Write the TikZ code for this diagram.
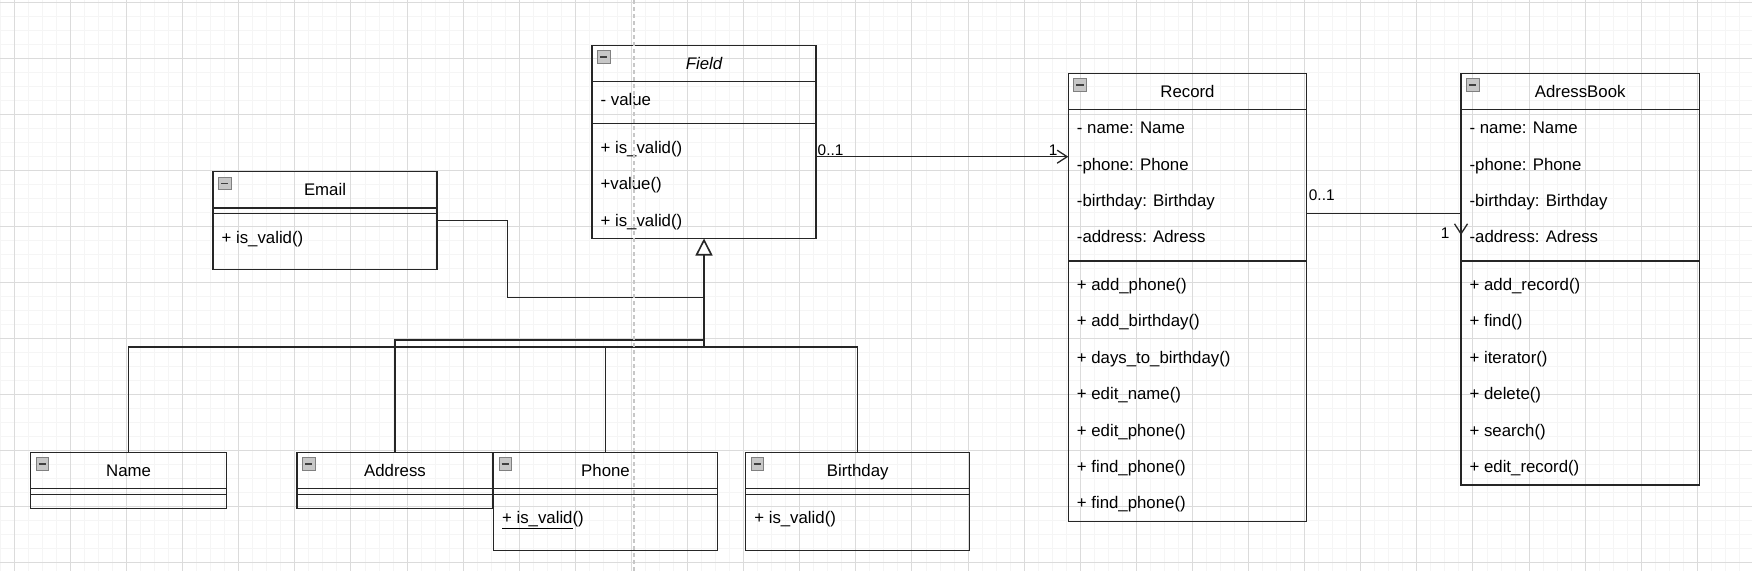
\documentclass[tikz,border=0pt]{standalone}
\usepackage{fontspec}
\setmainfont{Liberation Sans}
\usetikzlibrary{positioning,arrows.meta,math}

\newcommand\umlfont{\fontsize{16.8}{20}\selectfont}
\newcommand\multfont{\fontsize{15.4}{18}\selectfont}

\tikzset{
  head/.style={draw=black!85, line width=1.3pt, anchor=north west, inner sep=0pt, outer sep=0pt,
    minimum height=36.4pt, font=\umlfont, text height=15.2pt, text depth=3.6pt},
  comp/.style={draw=black!85, line width=1.3pt, inner sep=0pt, outer sep=0pt},
  row/.style={anchor=west, inner sep=0pt, xshift=8.4pt, font=\umlfont, text height=15.2pt, text depth=3.6pt},
  icon/.style={draw=black!50, fill=black!22, line width=0.8pt, anchor=north west, minimum size=12.6pt,
    inner sep=0pt, outer sep=0pt, xshift=5.4pt, yshift=-5.4pt,
    path picture={\draw[black!75, line width=1.8pt] ([xshift=2.6pt]path picture bounding box.west)
      -- ([xshift=-2.6pt]path picture bounding box.east);}},
  mult/.style={inner sep=0pt, font=\multfont},
  edge/.style={draw=black!85, line width=1.3pt},
  assoc/.style={edge, -{Straight Barb[length=10pt, width=13pt, line width=1.3pt]}},
  gridminor/.style={black!4, line width=0.9pt},
  gridmajor/.style={black!14, line width=1pt},
}

\begin{document}
\begin{tikzpicture}[x=1pt, y=-1pt]
  \tikzmath{\rh = 36.4; \gap = 5.6;}
  \useasboundingbox (0,0) rectangle (1752,571);

  % background grid
  \foreach \k in {0,...,124} \draw[gridminor] ({0.3+14.025*\k},0) -- ++(0,571);
  \foreach \k in {0,...,40} \draw[gridminor] (0,{2.3+14*\k}) -- ++(1752,0);
  \foreach \k in {0,...,30} \draw[gridmajor] ({14.3+56.1*\k},0) -- ++(0,571);
  \foreach \k in {0,...,10} \draw[gridmajor] (0,{2.3+56*\k}) -- ++(1752,0);

  % Field
  \node[head, minimum width=224pt] (field) at (592,45.3) {\itshape Field};
  \node[icon] (fieldicon) at (field.north west) {};
  \node[comp, minimum width=224pt, minimum height={\rh+\gap}, below=0pt of field] (fieldatt) {};
  \node[comp, minimum width=224pt, minimum height={3*\rh+\gap}, below=0pt of fieldatt] (fieldops) {};
  \foreach \t [count=\i] in {- value}
    \node[row] (fielda\i) at ([yshift={-(\i-0.5)*\rh}]fieldatt.north west) {\t};
  \foreach \t [count=\i] in {+ is\_valid(), +value(), + is\_valid()}
    \node[row] (fieldm\i) at ([yshift={-\gap-(\i-0.5)*\rh}]fieldops.north west) {\t};

  % Record
  \node[head, minimum width=238.4pt] (record) at (1068.3,73.3) {Record};
  \node[icon] (recordicon) at (record.north west) {};
  \node[comp, minimum width=238.4pt, minimum height={4*\rh+\gap}, below=0pt of record] (recordatt) {};
  \node[comp, minimum width=238.4pt, minimum height={7*\rh+\gap}, below=0pt of recordatt] (recordops) {};
  \foreach \t [count=\i] in {- name: Name, -phone: Phone, -birthday: Birthday, -address: Adress}
    \node[row] (recorda\i) at ([yshift={-(\i-0.5)*\rh}]recordatt.north west) {\t};
  \foreach \t [count=\i] in {+ add\_phone(), + add\_birthday(), + days\_to\_birthday(), + edit\_name(),
      + edit\_phone(), + find\_phone(), + find\_phone()}
    \node[row] (recordm\i) at ([yshift={-\gap-(\i-0.5)*\rh}]recordops.north west) {\t};

  % AdressBook
  \node[head, minimum width=238.4pt] (book) at (1461,73.3) {AdressBook};
  \node[icon] (bookicon) at (book.north west) {};
  \node[comp, minimum width=238.4pt, minimum height={4*\rh+\gap}, below=0pt of book] (bookatt) {};
  \node[comp, minimum width=238.4pt, minimum height={6*\rh+\gap}, below=0pt of bookatt] (bookops) {};
  \foreach \t [count=\i] in {- name: Name, -phone: Phone, -birthday: Birthday, -address: Adress}
    \node[row] (booka\i) at ([yshift={-(\i-0.5)*\rh}]bookatt.north west) {\t};
  \foreach \t [count=\i] in {+ add\_record(), + find(), + iterator(), + delete(), + search(), + edit\_record()}
    \node[row] (bookm\i) at ([yshift={-\gap-(\i-0.5)*\rh}]bookops.north west) {\t};

  % Email
  \node[head, minimum width=224pt] (email) at (213,171.7) {Email};
  \node[icon] (emailicon) at (email.north west) {};
  \node[comp, minimum width=224pt, minimum height=\gap, below=0pt of email] (emailatt) {};
  \node[comp, minimum width=224pt, minimum height={\rh+\gap+14}, below=0pt of emailatt] (emailops) {};
  \node[row] (emailm1) at ([yshift={-\gap-0.5*\rh}]emailops.north west) {+ is\_valid()};

  % Name
  \node[head, minimum width=196pt] (name) at (30.6,452.3) {Name};
  \node[icon] (nameicon) at (name.north west) {};
  \node[comp, minimum width=196pt, minimum height=\gap, below=0pt of name] (nameatt) {};
  \node[comp, minimum width=196pt, minimum height=14pt, below=0pt of nameatt] (nameops) {};

  % Address
  \node[head, minimum width=196pt] (address) at (297,452.3) {Address};
  \node[icon] (addressicon) at (address.north west) {};
  \node[comp, minimum width=196pt, minimum height=\gap, below=0pt of address] (addressatt) {};
  \node[comp, minimum width=196pt, minimum height=14pt, below=0pt of addressatt] (addressops) {};

  % Phone
  \node[head, minimum width=224pt] (phone) at (493.5,452.3) {Phone};
  \node[icon] (phoneicon) at (phone.north west) {};
  \node[comp, minimum width=224pt, minimum height=\gap, below=0pt of phone] (phoneatt) {};
  \node[comp, minimum width=224pt, minimum height={\rh+\gap+14}, below=0pt of phoneatt] (phoneops) {};
  \node[row] (phonem1) at ([yshift={-\gap-0.5*\rh}]phoneops.north west) {\underline{+ is\_valid}()};

  % Birthday
  \node[head, minimum width=224pt] (birthday) at (745.7,452.3) {Birthday};
  \node[icon] (birthdayicon) at (birthday.north west) {};
  \node[comp, minimum width=224pt, minimum height=\gap, below=0pt of birthday] (birthdayatt) {};
  \node[comp, minimum width=224pt, minimum height={\rh+\gap+14}, below=0pt of birthdayatt] (birthdayops) {};
  \node[row] (birthdaym1) at ([yshift={-\gap-0.5*\rh}]birthdayops.north west) {+ is\_valid()};

  % associations
  \coordinate (fr) at ([yshift=-33pt]fieldops.north east);
  \draw[assoc] (fr) -- (fr -| record.west);
  \node[mult, anchor=base west] (frfrom) at ([xshift=1.5pt, yshift=1.7pt]fr) {0..1};
  \node[mult, anchor=base east] (frto) at ([xshift=-10.8pt, yshift=1.7pt]fr -| record.west) {1};

  \coordinate (ra) at ([yshift=-104pt]recordatt.north east);
  \coordinate (rb) at ([yshift=-125.3pt]bookatt.north west);
  \draw[assoc] (ra) -| (rb);
  \node[mult, anchor=base west] (rafrom) at ([xshift=2pt, yshift=13pt]ra) {0..1};
  \node[mult, anchor=base east] (rbto) at ([xshift=-11.5pt, yshift=-3.3pt]rb) {1};

  % generalizations
  \coordinate (bus) at (fieldops.south |- 0,347);
  \coordinate (busaddr) at (fieldops.south |- 0,339.7);
  \coordinate (busmail) at (fieldops.south |- 0,297.7);
  \coordinate (mailout) at ([yshift=-7pt]emailops.north east);
  \draw[edge] (name.north) |- (bus);
  \draw[edge, line width=2.4pt] (address.north) |- (busaddr);
  \draw[edge] (phone.north) |- (bus);
  \draw[edge] (birthday.north) |- (bus);
  \draw[edge] (mailout) -- ++(70.3,0) |- (busmail);
  \draw[edge, line width=2.4pt, -{Triangle[length=17pt, width=17pt, fill=white, line width=1.6pt]}]
    (bus) -- (fieldops.south);

  % guide
  \draw[black!22, line width=1.5pt, dash pattern=on 4pt off 3pt] (634,0) -- (634,571);
\end{tikzpicture}
\end{document}
